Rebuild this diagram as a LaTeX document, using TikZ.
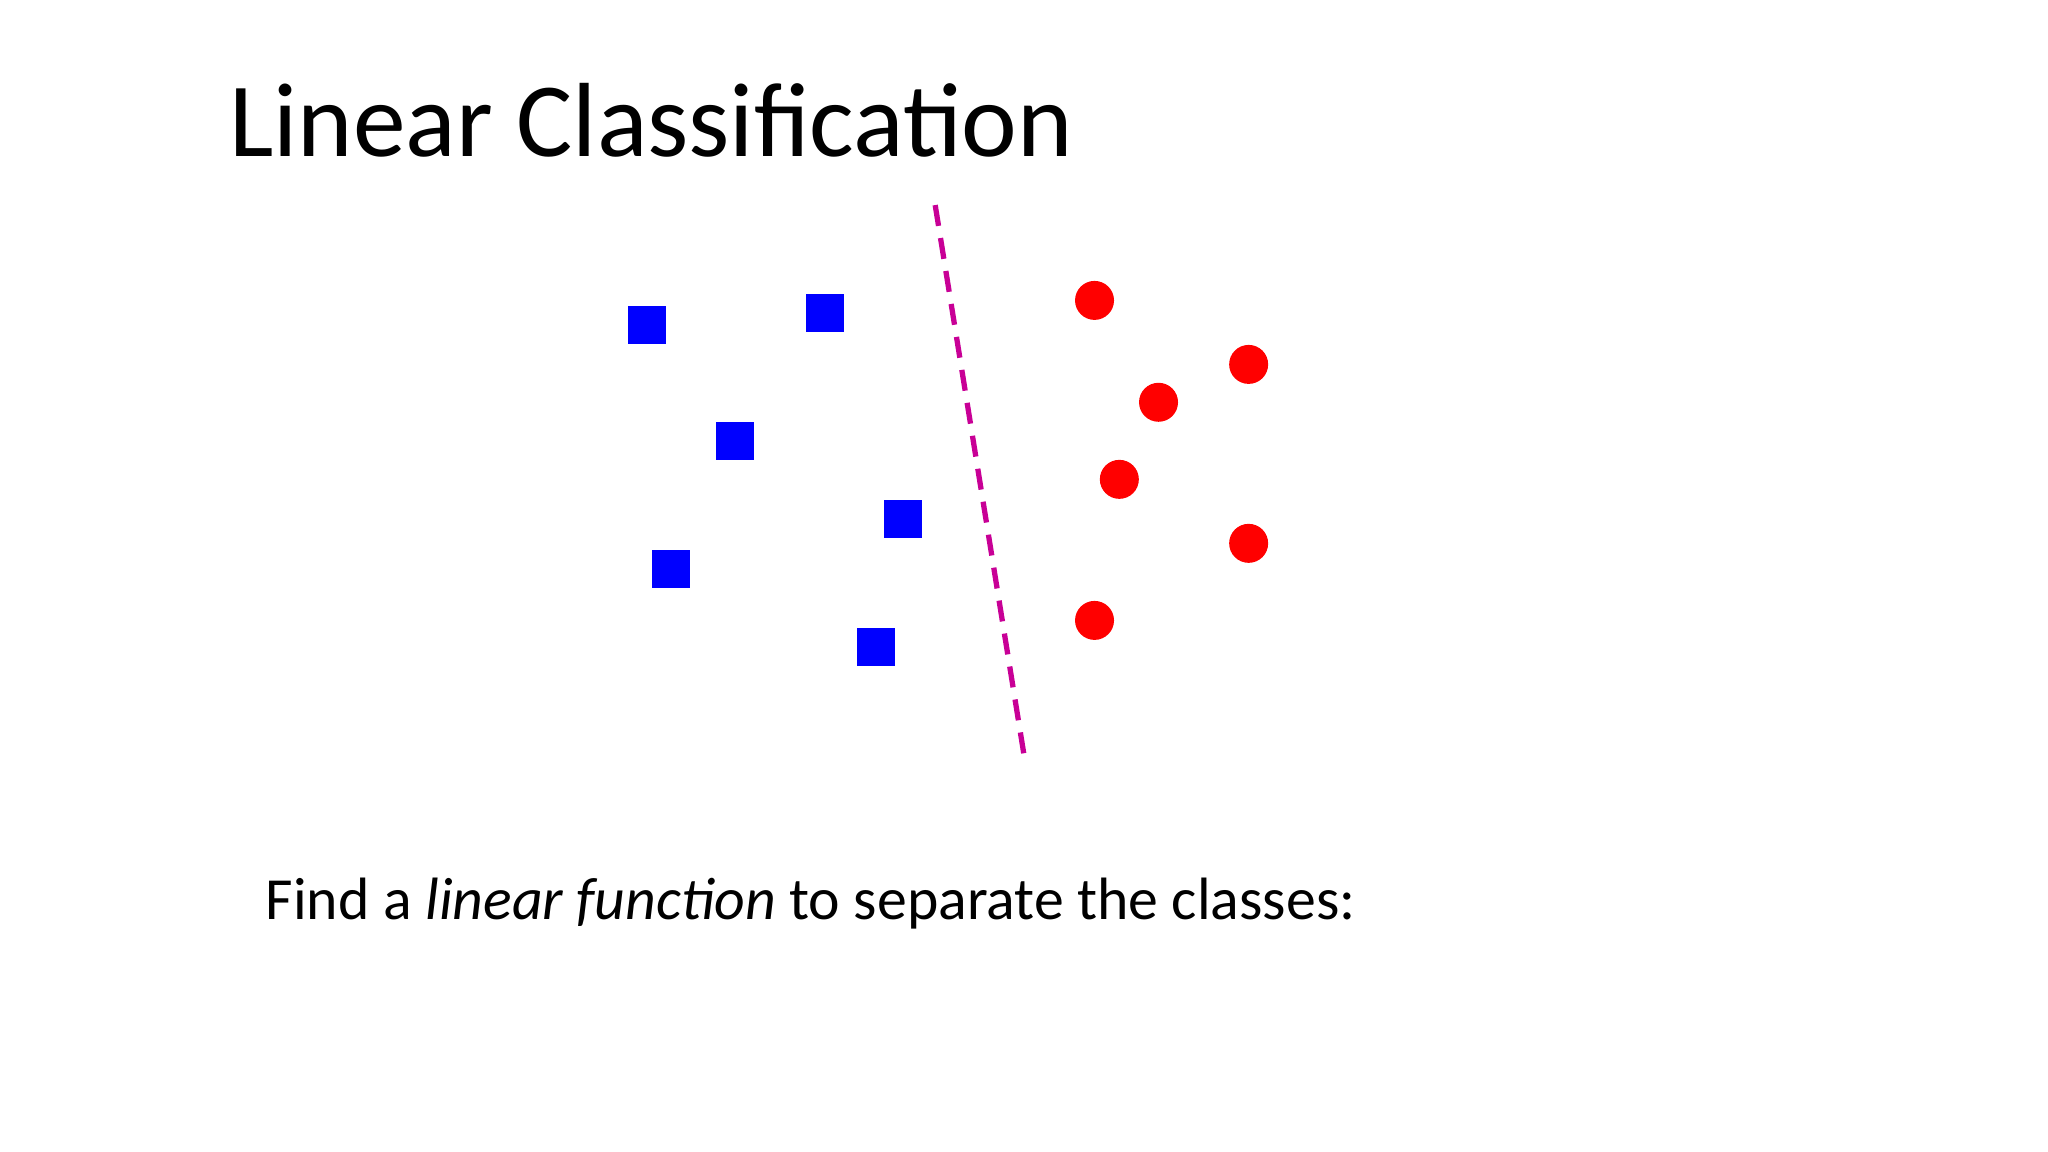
\documentclass[tikz,border=0pt]{standalone}
\usepackage{fontspec}
\setmainfont{Carlito}
\definecolor{sqblue}{RGB}{0,0,255}
\definecolor{dotred}{RGB}{255,0,0}
\definecolor{sepmag}{RGB}{200,0,150}
\begin{document}
\begin{tikzpicture}[x=0.013061cm,y=-0.013061cm,
  sq/.style={fill=sqblue,minimum size=0.38cm,inner sep=0pt,draw=none},
  dot/.style={circle,fill=dotred,minimum size=0.39cm,inner sep=0pt,draw=none}]
\useasboundingbox (0,0) rectangle (1568,882);
\node[anchor=base west,inner sep=0pt,font=\fontsize{30}{36}\selectfont] (title) at (175,120) {Linear Classification};
\node[anchor=base west,inner sep=0pt,font=\fontsize{17}{20}\selectfont] (cap) at (203,704) {Find a \textit{linear function} to separate the classes:};
\node[sq] (s1) at (495,249) {};
\node[sq] (s2) at (632,240) {};
\node[sq] (s3) at (563,338) {};
\node[sq] (s4) at (691,397) {};
\node[sq] (s5) at (514,436) {};
\node[sq] (s6) at (671,495) {};
\node[dot] (c1) at (838,230) {};
\node[dot] (c2) at (956,279) {};
\node[dot] (c3) at (887,308) {};
\node[dot] (c4) at (857,367) {};
\node[dot] (c5) at (956,416) {};
\node[dot] (c6) at (838,475) {};
\coordinate (lt) at (716,157);
\coordinate (lb) at (784,578);
\draw[sepmag,line width=1.5pt,dash pattern=on 6pt off 3.5pt] (lt) -- (lb);
\end{tikzpicture}
\end{document}
